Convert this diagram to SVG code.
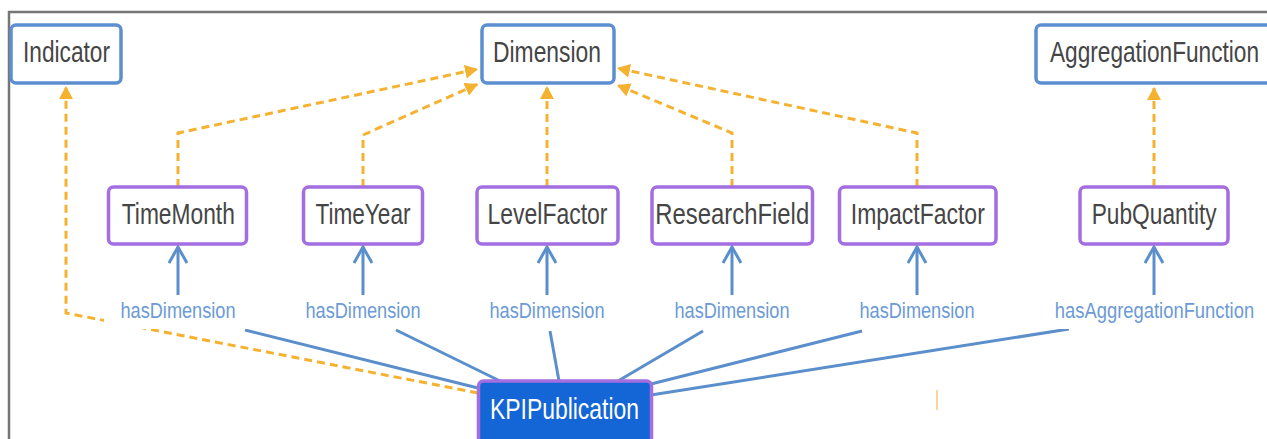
<svg xmlns="http://www.w3.org/2000/svg" width="1267" height="439" viewBox="0 0 1267 439">
<style>
.frame{fill:none;stroke:#767676;stroke-width:2.5}
.cls{fill:#fff;stroke:#5b8fcf;stroke-width:3.5}
.ind{fill:#fff;stroke:#a36ee0;stroke-width:3.5}
.kpi{fill:#1466d6;stroke:#a36ee0;stroke-width:3.5}
.nt{font-family:"Liberation Sans",Arial,sans-serif;font-size:30px;fill:#454545;text-anchor:middle}
.kt{font-family:"Liberation Sans",Arial,sans-serif;font-size:30px;fill:#fff;text-anchor:middle}
.lt{font-family:"Liberation Sans",Arial,sans-serif;font-size:22px;fill:#6b9ad6;text-anchor:middle}
.lbg{fill:#fff}
.sub{fill:none;stroke:#f5b230;stroke-width:3;stroke-dasharray:8 5}
.rel{fill:none;stroke:#5b8fcc;stroke-width:3}
.rela{fill:none;stroke:#5b8fcc;stroke-width:3}
</style>
<defs>
<marker id="oa" markerUnits="userSpaceOnUse" markerWidth="14" markerHeight="14" refX="13" refY="7" orient="auto">
<path d="M0,0 L13,7 L0,14 Z" fill="#f5b230"/>
</marker>
<marker id="ba" markerUnits="userSpaceOnUse" markerWidth="20" markerHeight="22" refX="17" refY="10" orient="auto">
<path d="M1,1 L17,10 L1,19" fill="none" stroke="#5b8fcc" stroke-width="3"/>
</marker>
</defs>
<rect width="1267" height="439" fill="#fff"/>
<path class="frame" d="M9,439 V12 H1267"/>

<g id="connectors">
<path class="sub" d="M478,393 L66,313 L66,86" marker-end="url(#oa)"/>
<path class="sub" d="M178,187 L178,133 L478,69" marker-end="url(#oa)"/>
<path class="sub" d="M363,187 L363,135 L478,84" marker-end="url(#oa)"/>
<path class="sub" d="M547,187 L547,86" marker-end="url(#oa)"/>
<path class="sub" d="M732,187 L732,133 L617,85" marker-end="url(#oa)"/>
<path class="sub" d="M917,187 L917,133 L617,68" marker-end="url(#oa)"/>
<path class="sub" d="M1154,187 L1154,87" marker-end="url(#oa)"/>
<path class="rel" d="M245,330 L478,388"/>
<path class="rel" d="M396,330 L500,381"/>
<path class="rel" d="M550,331 L559,381"/>
<path class="rel" d="M703,331 L618,381"/>
<path class="rel" d="M862,331 L651,384"/>
<path class="rel" d="M1069,329 L651,395"/>
<path class="rela" d="M178,295 L178,247" marker-end="url(#ba)"/>
<path class="rela" d="M363,295 L363,247" marker-end="url(#ba)"/>
<path class="rela" d="M547,295 L547,247" marker-end="url(#ba)"/>
<path class="rela" d="M732,295 L732,247" marker-end="url(#ba)"/>
<path class="rela" d="M917,295 L917,247" marker-end="url(#ba)"/>
<path class="rela" d="M1154,295 L1154,247" marker-end="url(#ba)"/>
<path d="M937,390 V410" stroke="#f7c879" stroke-width="1.5"/>
</g>

<g id="labels">
<rect class="lbg" x="104" y="298" width="148" height="31"/>
<text class="lt" x="178" y="318" textLength="115" lengthAdjust="spacingAndGlyphs">hasDimension</text>
<rect class="lbg" x="298" y="298" width="130" height="31"/>
<text class="lt" x="363" y="318" textLength="115" lengthAdjust="spacingAndGlyphs">hasDimension</text>
<rect class="lbg" x="482" y="298" width="130" height="31"/>
<text class="lt" x="547" y="318" textLength="115" lengthAdjust="spacingAndGlyphs">hasDimension</text>
<rect class="lbg" x="667" y="298" width="130" height="31"/>
<text class="lt" x="732" y="318" textLength="115" lengthAdjust="spacingAndGlyphs">hasDimension</text>
<rect class="lbg" x="852" y="298" width="130" height="31"/>
<text class="lt" x="917" y="318" textLength="115" lengthAdjust="spacingAndGlyphs">hasDimension</text>
<rect class="lbg" x="1050" y="298" width="209" height="31"/>
<text class="lt" transform="translate(1154.5,318) scale(0.836,1)" x="0" y="0">hasAggregationFunction</text>
</g>

<g id="Indicator">
<rect class="cls" x="11" y="25" width="110" height="58" rx="5"/>
<text class="nt" x="66.5" y="62" textLength="87" lengthAdjust="spacingAndGlyphs">Indicator</text>
</g>
<g id="Dimension">
<rect class="cls" x="482" y="25" width="132" height="58" rx="5"/>
<text class="nt" x="547" y="62" textLength="108" lengthAdjust="spacingAndGlyphs">Dimension</text>
</g>
<g id="AggregationFunction">
<rect class="cls" x="1036" y="25" width="240" height="58" rx="5"/>
<text class="nt" transform="translate(1154.5,62) scale(0.755,1)" x="0" y="0">AggregationFunction</text>
</g>
<g id="TimeMonth">
<rect class="ind" x="108.5" y="187" width="138" height="57" rx="5"/>
<text class="nt" x="178.3" y="224" textLength="113" lengthAdjust="spacingAndGlyphs">TimeMonth</text>
</g>
<g id="TimeYear">
<rect class="ind" x="303.5" y="187" width="119" height="57" rx="5"/>
<text class="nt" x="363" y="224" textLength="95" lengthAdjust="spacingAndGlyphs">TimeYear</text>
</g>
<g id="LevelFactor">
<rect class="ind" x="477" y="187" width="141" height="57" rx="5"/>
<text class="nt" x="547.5" y="224" textLength="120" lengthAdjust="spacingAndGlyphs">LevelFactor</text>
</g>
<g id="ResearchField">
<rect class="ind" x="652" y="187" width="160.5" height="57" rx="5"/>
<text class="nt" x="732.2" y="224" textLength="154" lengthAdjust="spacingAndGlyphs">ResearchField</text>
</g>
<g id="ImpactFactor">
<rect class="ind" x="839.5" y="187" width="156.5" height="57" rx="5"/>
<text class="nt" x="917.8" y="224" textLength="134" lengthAdjust="spacingAndGlyphs">ImpactFactor</text>
</g>
<g id="PubQuantity">
<rect class="ind" x="1080" y="187" width="148" height="57" rx="5"/>
<text class="nt" x="1154.2" y="224" textLength="125" lengthAdjust="spacingAndGlyphs">PubQuantity</text>
</g>
<g id="KPIPublication">
<rect class="kpi" x="478.5" y="381" width="173" height="64" rx="5"/>
<text class="kt" x="564.5" y="419" textLength="149" lengthAdjust="spacingAndGlyphs">KPIPublication</text>
</g>
</svg>
